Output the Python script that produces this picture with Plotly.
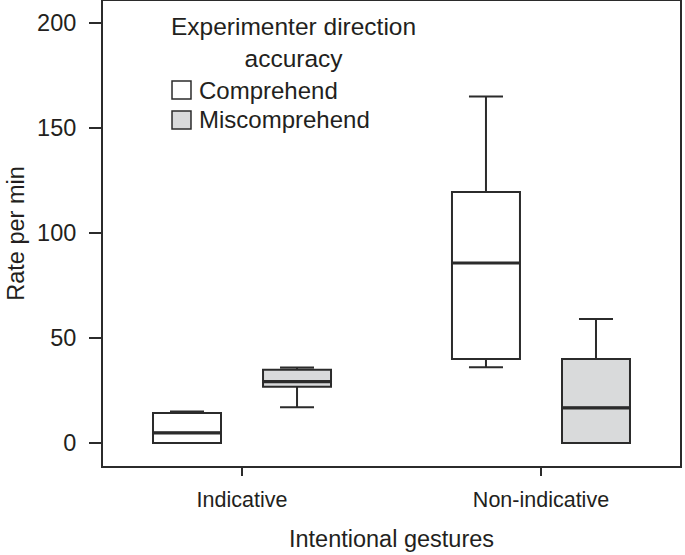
import plotly.graph_objects as go

categories = ["Indicative", "Non-indicative"]
series_names = ["Comprehend", "Miscomprehend"]

comp_lower = [0, 36]
comp_q1 = [0, 40]
comp_median = [4.8, 85.7]
comp_q3 = [14.3, 119.5]
comp_upper = [15, 165]

mis_lower = [17, 0]
mis_q1 = [26.8, 0]
mis_median = [29.2, 16.7]
mis_q3 = [34.8, 40]
mis_upper = [35.9, 59]

y_ticks = [0, 50, 100, 150, 200]
legend_title = "Experimenter direction<br>accuracy"
x_title = "Intentional gestures"
y_title = "Rate per min"

FONT = "Liberation Sans, Arial, Helvetica, sans-serif"
INK = "#231f20"
LINE = "#2b2b2b"
FILLS = ["#ffffff", "#d9dadb"]

fig = go.Figure()
series = [
    (series_names[0], comp_lower, comp_q1, comp_median, comp_q3, comp_upper, FILLS[0]),
    (series_names[1], mis_lower, mis_q1, mis_median, mis_q3, mis_upper, FILLS[1]),
]
for name, lo, q1, med, q3, up, fill in series:
    fig.add_trace(go.Box(
        name=name, x=categories, q1=q1, median=med, q3=q3,
        lowerfence=lo, upperfence=up, boxpoints=False,
        fillcolor=fill, line=dict(color=LINE, width=2),
        whiskerwidth=0.5, showlegend=False, hoverinfo="skip",
    ))
# thicker median bars drawn on top
for name, lo, q1, med, q3, up, fill in series:
    fig.add_trace(go.Scatter(
        name=name + " median", x=categories, y=med, mode="markers",
        marker=dict(symbol="line-ew", size=48,
                    line=dict(color=LINE, width=3.2)),
        showlegend=False, hoverinfo="skip",
    ))

fig.update_layout(
    width=685, height=555,
    margin=dict(l=103, r=5, t=1, b=89),
    paper_bgcolor="white", plot_bgcolor="white",
    boxmode="group", boxgap=0.264, boxgroupgap=0.382,
    scattermode="group", scattergap=0.264,
    font=dict(family=FONT, size=23, color=INK),
    showlegend=False,
)
fig.update_xaxes(
    type="category", range=[-0.465, 1.465], automargin=False,
    showline=True, mirror=True, linecolor=LINE, linewidth=2,
    ticks="outside", ticklen=8, tickwidth=2, tickcolor=LINE,
    ticklabelstandoff=5,
    showgrid=False, zeroline=False,
    title=dict(text=x_title, standoff=20, font=dict(size=23.5, color=INK)),
    tickfont=dict(size=21.5, color=INK),
)
fig.update_yaxes(
    range=[-11, 210.5], tickvals=y_ticks, automargin=False,
    showline=True, mirror=True, linecolor=LINE, linewidth=2,
    ticks="outside", ticklen=12, tickwidth=2, tickcolor=LINE,
    ticklabelstandoff=8,
    showgrid=False, zeroline=False,
    title=dict(text=y_title, standoff=6, font=dict(size=23.5, color=INK)),
    tickfont=dict(size=23.5, color=INK),
)

# legend drawn inside plot area
fig.add_annotation(
    xref="paper", yref="paper", x=0.3300, y=0.910,
    text=legend_title, showarrow=False, align="center",
    xanchor="center", yanchor="middle", font=dict(size=24.5, color=INK),
)
rows_y = [0.8086, 0.7441]
for name, fill, yc in zip(series_names, FILLS, rows_y):
    fig.add_shape(
        type="rect", xref="paper", yref="paper",
        x0=0.1196, x1=0.1525, y0=yc - 0.0194, y1=yc + 0.0194,
        fillcolor=fill, line=dict(color=LINE, width=1.5),
    )
    fig.add_annotation(
        xref="paper", yref="paper", x=0.163, y=yc,
        text=name, showarrow=False, xanchor="left", yanchor="middle",
        font=dict(size=24, color=INK),
    )

fig.write_html("out.html", config={"displayModeBar": False},
               post_script="document.body.style.margin='0';")
